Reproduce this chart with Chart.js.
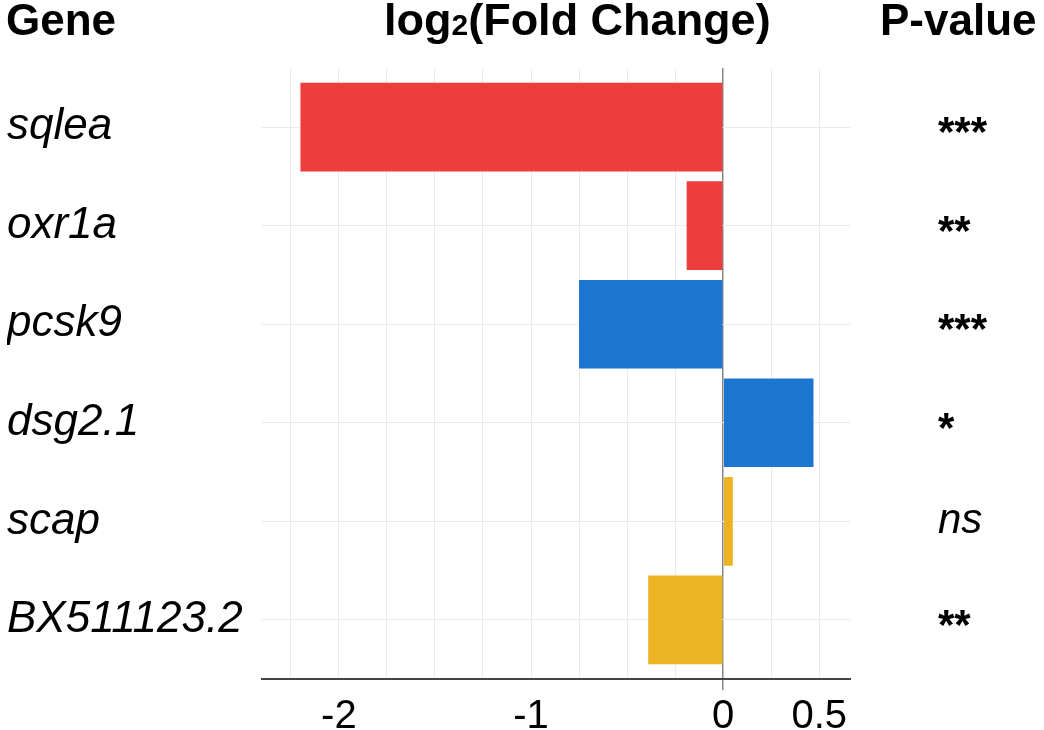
<!DOCTYPE html>
<html>
<head>
<meta charset="utf-8">
<script src="https://cdn.jsdelivr.net/npm/chart.js@4.4.1/dist/chart.umd.min.js"></script>
<style>
  html, body { margin: 0; padding: 0; background: #fff; }
  #wrap { width: 1044px; height: 730px; position: relative; }
</style>
</head>
<body>
<div id="wrap"><canvas id="fcChart"></canvas></div>
<script>
var genes = ["sqlea", "oxr1a", "pcsk9", "dsg2.1", "scap", "BX511123.2"];
var foldChange = [-2.2, -0.19, -0.75, 0.47, 0.05, -0.39];
var pValues = ["***", "**", "***", "*", "ns", "**"];
var barColors = ["#ed3d3d", "#ed3d3d", "#1c75cf", "#1c75cf", "#ecb324", "#ecb324"];
var xTickValues = [-2, -1, 0, 0.5];

var FONT = "'Liberation Sans', Arial, sans-serif";

// column headers + p-value column
var headerPlugin = {
  id: 'headers',
  afterDraw: function (chart) {
    var ctx = chart.ctx;
    var yScale = chart.scales.y;
    ctx.save();
    ctx.fillStyle = '#000';
    ctx.textBaseline = 'alphabetic';
    ctx.textAlign = 'left';
    ctx.font = 'bold 44px ' + FONT;
    ctx.fillText('Gene', 6, 35);
    ctx.fillText('P-value', 880, 35);

    var x = 384;
    ctx.font = 'bold 45px ' + FONT;
    ctx.fillText('log', x, 35);
    x += ctx.measureText('log').width;
    ctx.font = 'bold 30px ' + FONT;
    ctx.fillText('2', x, 35);
    x += ctx.measureText('2').width;
    ctx.font = 'bold 45px ' + FONT;
    ctx.fillText('(Fold Change)', x, 35);

    pValues.forEach(function (p, i) {
      var y = yScale.getPixelForValue(i);
      if (p === 'ns') {
        ctx.font = 'italic 42px ' + FONT;
        ctx.fillText(p, 938, y + 12);
      } else {
        ctx.font = 'bold 42px ' + FONT;
        ctx.fillText(p, 938, y + 19);
      }
    });
    ctx.restore();
  }
};

new Chart(document.getElementById('fcChart'), {
  type: 'bar',
  data: {
    datasets: [{
      data: foldChange.map(function (v, i) { return { x: v, y: i }; }),
      backgroundColor: barColors,
      borderWidth: 0,
      categoryPercentage: 1,
      barPercentage: 0.9
    }]
  },
  options: {
    indexAxis: 'y',
    responsive: true,
    maintainAspectRatio: false,
    animation: false,
    layout: { padding: { left: 7, top: 68, right: 194, bottom: 0 } },
    plugins: { legend: { display: false }, tooltip: { enabled: false } },
    scales: {
      x: {
        type: 'linear',
        min: -2.4,
        max: 0.66,
        afterFit: function (s) { s.height = 51; },
        border: { color: '#444', width: 2 },
        grid: {
          color: function (c) { return c.tick && c.tick.value === 0 ? '#888' : '#ebebeb'; },
          tickColor: function (c) { return c.tick && c.tick.value === 0 ? '#888' : 'rgba(0,0,0,0)'; },
          lineWidth: function (c) { return c.tick && c.tick.value === 0 ? 1.5 : 1; },
          tickLength: 11
        },
        ticks: {
          stepSize: 0.25,
          includeBounds: false,
          autoSkip: false,
          maxRotation: 0,
          padding: 3,
          color: '#000',
          font: { family: FONT, size: 40 },
          callback: function (v) { return xTickValues.indexOf(v) >= 0 ? String(v) : ''; }
        }
      },
      y: {
        type: 'linear',
        reverse: true,
        offset: false,
        min: -0.6,
        max: 5.6,
        afterFit: function (s) { s.width = 255; },
        border: { display: false },
        grid: { color: '#ebebeb', drawTicks: false, offset: false },
        ticks: {
          stepSize: 1,
          includeBounds: false,
          crossAlign: 'far',
          autoSkip: false,
          color: '#000',
          font: { family: FONT, size: 44, style: 'italic' },
          callback: function (v) { return genes[v]; }
        }
      }
    }
  },
  plugins: [headerPlugin]
});
</script>
</body>
</html>
